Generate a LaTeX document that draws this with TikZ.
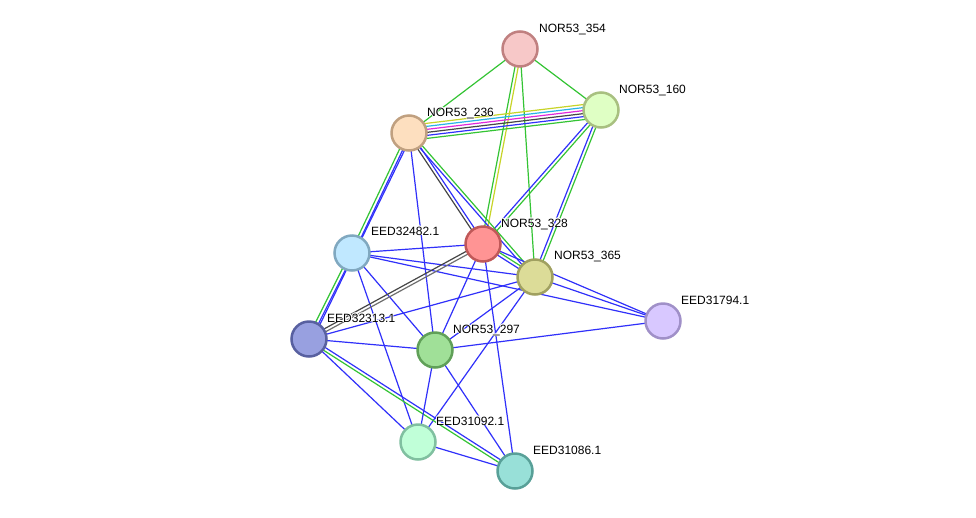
\documentclass[tikz,border=0pt]{standalone}
\usepackage{fontspec}
\setmainfont{Liberation Sans}
\usetikzlibrary{calc,backgrounds}
\pgfdeclarelayer{edgelayer}
\pgfsetlayers{background,edgelayer,main}
\definecolor{eblue}{RGB}{48,48,250}
\definecolor{egreen}{RGB}{52,196,52}
\definecolor{eyellow}{RGB}{200,212,40}
\definecolor{ecyan}{RGB}{40,180,230}
\definecolor{emag}{RGB}{224,40,220}
\definecolor{eblack}{RGB}{70,70,70}
\definecolor{egray}{RGB}{110,110,110}
\newcommand\lnk[4]{\draw[lk,#4] ($(#1)!#3!90:(#2)$) -- ($(#2)!#3!-90:(#1)$);}
\newcommand\halotext[1]{\leavevmode\rlap{\color{white}\hspace{0.8pt}#1}\rlap{\color{white}\hspace{-0.8pt}#1}\rlap{\color{white}\raisebox{0.8pt}{#1}}\rlap{\color{white}\raisebox{-0.8pt}{#1}}\rlap{\color{white}\hspace{0.6pt}\raisebox{0.6pt}{#1}}\rlap{\color{white}\hspace{-0.6pt}\raisebox{-0.6pt}{#1}}\rlap{\color{white}\hspace{0.6pt}\raisebox{-0.6pt}{#1}}\rlap{\color{white}\hspace{-0.6pt}\raisebox{0.6pt}{#1}}#1}
\tikzset{
  prot/.style={circle, minimum size=35pt, inner sep=0pt, line width=2.5pt},
  lk/.style={line width=1.2pt},
  lbl/.style={anchor=base west, inner sep=0pt, font=\fontsize{12}{14}\selectfont, text=black},
}
\begin{document}
\begin{tikzpicture}[x=1pt,y=-1pt]
\begin{pgfonlayer}{background}
\fill[white] (0,0) rectangle (976,517);
\end{pgfonlayer}
\useasboundingbox (0,0) rectangle (976,517);
% proteins
\node[prot, fill={rgb,255:red,247;green,200;blue,200}, draw={rgb,255:red,192;green,128;blue,128}] (n354) at (520,49) {};
\node[prot, fill={rgb,255:red,223;green,255;blue,196}, draw={rgb,255:red,168;green,192;blue,128}] (n160) at (601,110) {};
\node[prot, fill={rgb,255:red,253;green,223;blue,191}, draw={rgb,255:red,192;green,160;blue,128}] (n236) at (409,133) {};
\node[prot, fill={rgb,255:red,255;green,148;blue,148}, draw={rgb,255:red,192;green,88;blue,88}] (n328) at (483,244) {};
\node[prot, fill={rgb,255:red,192;green,232;blue,255}, draw={rgb,255:red,128;green,168;blue,192}] (e32482) at (352,253) {};
\node[prot, fill={rgb,255:red,220;green,220;blue,152}, draw={rgb,255:red,160;green,160;blue,96}] (n365) at (535,277) {};
\node[prot, fill={rgb,255:red,216;green,200;blue,255}, draw={rgb,255:red,160;green,144;blue,200}] (e31794) at (663,321) {};
\node[prot, fill={rgb,255:red,152;green,160;blue,224}, draw={rgb,255:red,88;green,96;blue,160}] (e32313) at (309,339) {};
\node[prot, fill={rgb,255:red,160;green,224;blue,152}, draw={rgb,255:red,96;green,160;blue,88}] (n297) at (435,350) {};
\node[prot, fill={rgb,255:red,192;green,255;blue,216}, draw={rgb,255:red,128;green,192;blue,160}] (e31092) at (418,442) {};
\node[prot, fill={rgb,255:red,152;green,224;blue,216}, draw={rgb,255:red,88;green,160;blue,152}] (e31086) at (515,471) {};
% labels
\node[lbl] (l354) at (539,32) {\halotext{NOR53\_354}};
\node[lbl] (l160) at (619,93) {\halotext{NOR53\_160}};
\node[lbl] (l236) at (427,116) {\halotext{NOR53\_236}};
\node[lbl] (l328) at (501,227) {\halotext{NOR53\_328}};
\node[lbl] (l32482) at (371,235) {\halotext{EED32482.1}};
\node[lbl] (l365) at (554,259) {\halotext{NOR53\_365}};
\node[lbl] (l31794) at (681,304) {\halotext{EED31794.1}};
\node[lbl] (l32313) at (327,322) {\halotext{EED32313.1}};
\node[lbl] (l297) at (453,333) {\halotext{NOR53\_297}};
\node[lbl] (l31092) at (436,425) {\halotext{EED31092.1}};
\node[lbl] (l31086) at (533,454) {\halotext{EED31086.1}};
\begin{pgfonlayer}{edgelayer}
% top
\lnk{n354}{n236}{0pt}{egreen}
\lnk{n354}{n160}{0pt}{egreen}
\lnk{n354}{n328}{-1.6pt}{egreen}
\lnk{n354}{n328}{1.6pt}{eyellow}
\lnk{n354}{n365}{0pt}{egreen}
% 236-160 bundle
\lnk{n236}{n160}{7.5pt}{eyellow}
\lnk{n236}{n160}{4.5pt}{ecyan}
\lnk{n236}{n160}{1.5pt}{emag}
\lnk{n236}{n160}{-1.5pt}{eblack}
\lnk{n236}{n160}{-4.5pt}{eblue}
\lnk{n236}{n160}{-7.5pt}{egreen}
% 160
\lnk{n160}{n328}{-1.6pt}{eblue}
\lnk{n160}{n328}{1.6pt}{egreen}
\lnk{n160}{n365}{-1.6pt}{eblue}
\lnk{n160}{n365}{1.6pt}{egreen}
% 236
\lnk{n236}{e32482}{1.6pt}{eblue}
\lnk{n236}{e32482}{-1.6pt}{egreen}
\lnk{n236}{e32313}{3.5pt}{eblue}
\lnk{e32482}{e32313}{1.6pt}{eblue}
\lnk{e32482}{e32313}{-1.6pt}{egreen}
\lnk{n236}{n297}{0pt}{eblue}
\lnk{n236}{n328}{-1.6pt}{eblack}
\lnk{n236}{n328}{1.6pt}{eblue}
\lnk{n236}{n365}{-1.6pt}{eblue}
\lnk{n236}{n365}{1.6pt}{egreen}
\lnk{n328}{n365}{-1.6pt}{eblue}
\lnk{n328}{n365}{1.6pt}{egreen}
% EED32482
\lnk{e32482}{n328}{0pt}{eblue}
\lnk{e32482}{n365}{0pt}{eblue}
\lnk{e32482}{e31794}{0pt}{eblue}
\lnk{e32482}{n297}{0pt}{eblue}
\lnk{e32482}{e31092}{0pt}{eblue}
% NOR53_328
\lnk{n328}{e32313}{-1.6pt}{eblack}
\lnk{n328}{e32313}{1.6pt}{egray}
\lnk{n328}{n297}{0pt}{eblue}
\lnk{n328}{e31794}{0pt}{eblue}
\lnk{n328}{e31086}{0pt}{eblue}
% NOR53_365
\lnk{n365}{e32313}{0pt}{eblue}
\lnk{n365}{n297}{0pt}{eblue}
\lnk{n365}{e31794}{0pt}{eblue}
\lnk{n365}{e31092}{0pt}{eblue}
% EED32313
\lnk{e32313}{n297}{0pt}{eblue}
\lnk{e32313}{e31092}{0pt}{eblue}
\lnk{e32313}{e31086}{1.6pt}{eblue}
\lnk{e32313}{e31086}{-1.6pt}{egreen}
% NOR53_297
\lnk{n297}{e31794}{0pt}{eblue}
\lnk{n297}{e31092}{0pt}{eblue}
\lnk{n297}{e31086}{0pt}{eblue}
\lnk{e31092}{e31086}{0pt}{eblue}
\end{pgfonlayer}
\end{tikzpicture}
\end{document}
